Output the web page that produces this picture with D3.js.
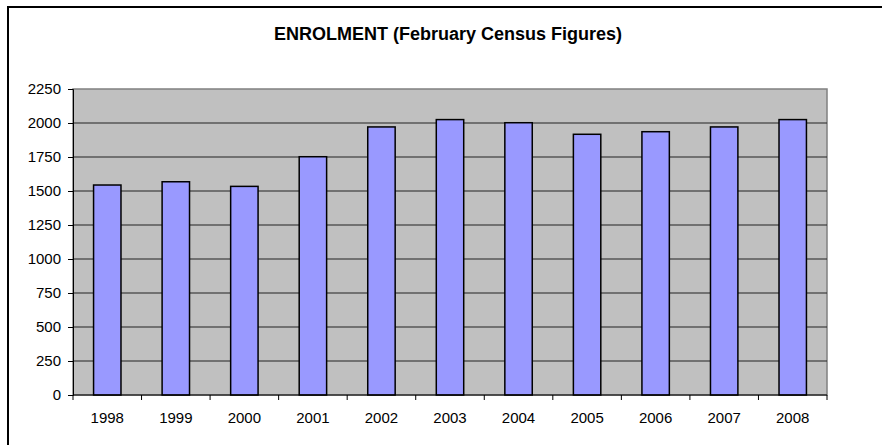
<!DOCTYPE html>
<html>
<head>
<meta charset="utf-8">
<script src="https://cdn.jsdelivr.net/npm/d3@7"></script>
<style>
  body { margin: 0; background: #fff; }
  text { font-family: "Liberation Sans", Arial, sans-serif; }
</style>
</head>
<body>
<div id="chart"></div>
<script>
var years = ["1998","1999","2000","2001","2002","2003","2004","2005","2006","2007","2008"];
var enrolment = [1544, 1568, 1534, 1752, 1971, 2025, 2002, 1917, 1936, 1971, 2025];
var yTicks = [0, 250, 500, 750, 1000, 1250, 1500, 1750, 2000, 2250];

var W = 882, H = 445;
var plot = {left: 73, top: 89, right: 827, bottom: 395};

var svg = d3.select("#chart")
  .append("svg")
  .attr("width", W)
  .attr("height", H);

// outer chart border
svg.append("rect")
  .attr("x", 8).attr("y", 7)
  .attr("width", 890).attr("height", 460)
  .attr("fill", "#fff")
  .attr("stroke", "#000")
  .attr("stroke-width", 2);

svg.append("text")
  .attr("x", 448).attr("y", 40)
  .attr("text-anchor", "middle")
  .attr("font-size", "18px")
  .attr("font-weight", "bold")
  .text("ENROLMENT (February Census Figures)");

var x = d3.scaleBand()
  .domain(years)
  .range([plot.left, plot.right]);

var y = d3.scaleLinear()
  .domain([0, 2250])
  .range([plot.bottom, plot.top]);

// plot area
svg.append("rect")
  .attr("x", plot.left).attr("y", plot.top)
  .attr("width", plot.right - plot.left)
  .attr("height", plot.bottom - plot.top)
  .attr("fill", "#c0c0c0")
  .attr("stroke", "#808080")
  .attr("stroke-width", 1.5);

// gridlines
svg.append("g").selectAll("line")
  .data(yTicks.filter(d => d > 0 && d < 2250)).enter()
  .append("line")
  .attr("x1", plot.left).attr("x2", plot.right)
  .attr("y1", d => y(d)).attr("y2", d => y(d))
  .attr("stroke", "#222")
  .attr("stroke-width", 1);

// bars (gap width 150%)
var bw = x.bandwidth() / 2.5;
svg.append("g").selectAll("rect")
  .data(enrolment).enter()
  .append("rect")
  .attr("x", (d, i) => x(years[i]) + x.bandwidth() / 2 - bw / 2)
  .attr("y", d => y(d))
  .attr("width", bw)
  .attr("height", d => plot.bottom - y(d))
  .attr("fill", "#9999ff")
  .attr("stroke", "#000")
  .attr("stroke-width", 1.5);

// y axis
var yAxis = svg.append("g")
  .attr("transform", "translate(" + plot.left + ",0)")
  .call(d3.axisLeft(y).tickValues(yTicks).tickFormat(d3.format("d")).tickSize(5).tickPadding(7));
yAxis.select(".domain").attr("stroke", "#000");
yAxis.selectAll("text").attr("font-size", "15px").attr("fill", "#000")
  .attr("font-family", "'Liberation Sans', Arial, sans-serif");

// x axis
var xAxis = svg.append("g")
  .attr("transform", "translate(0," + plot.bottom + ")");
xAxis.append("line")
  .attr("x1", plot.left).attr("x2", plot.right)
  .attr("stroke", "#000");
xAxis.selectAll("line.tk")
  .data(years.concat(["end"])).enter()
  .append("line").attr("class", "tk")
  .attr("x1", (d, i) => plot.left + i * x.step())
  .attr("x2", (d, i) => plot.left + i * x.step())
  .attr("y1", 0).attr("y2", 5)
  .attr("stroke", "#000");
xAxis.selectAll("text")
  .data(years).enter()
  .append("text")
  .attr("x", d => x(d) + x.bandwidth() / 2)
  .attr("y", 28)
  .attr("text-anchor", "middle")
  .attr("font-size", "15px")
  .text(d => d);
</script>
</body>
</html>
